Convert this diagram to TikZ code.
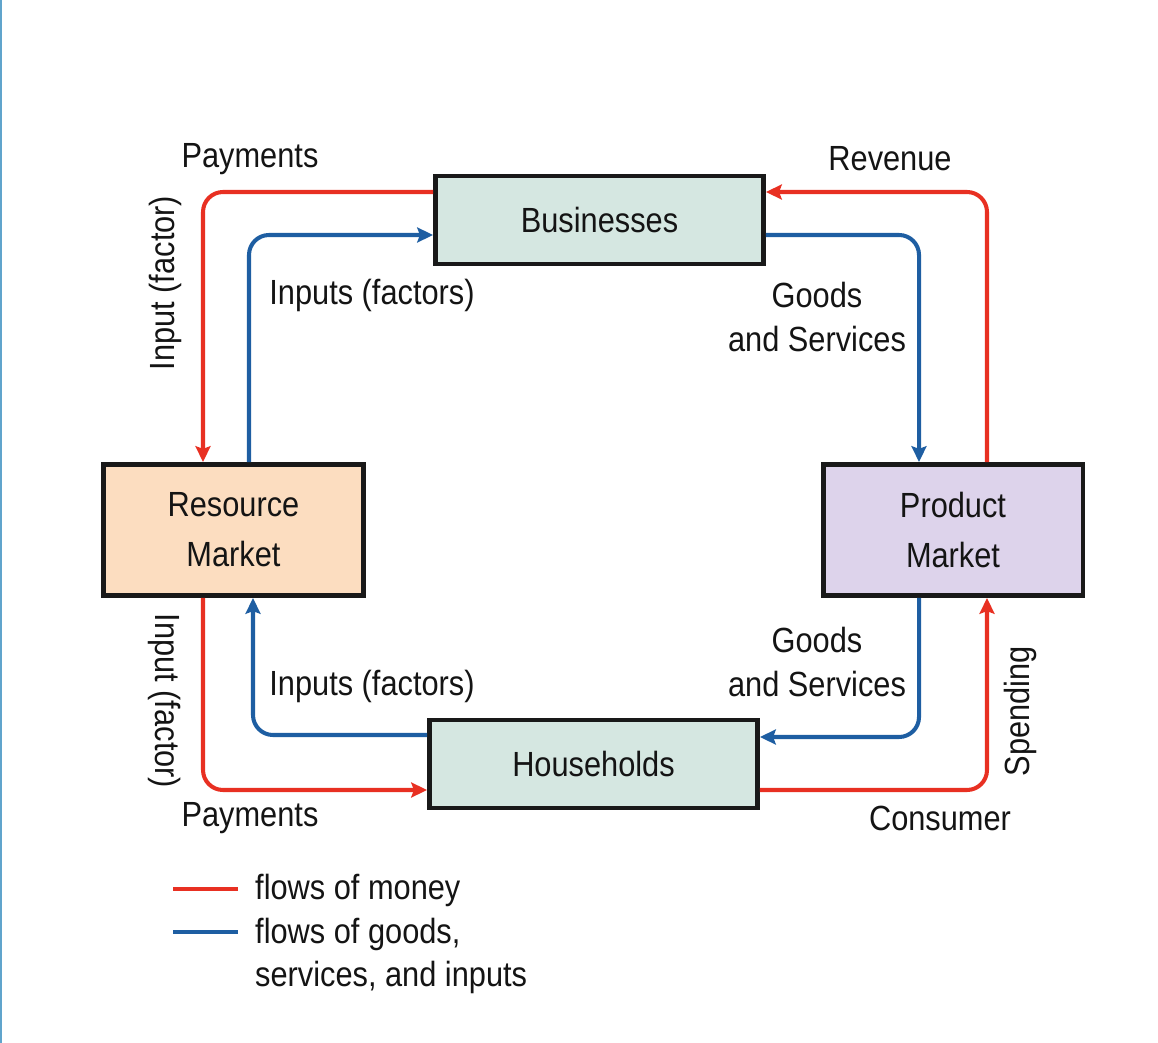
\documentclass[tikz,border=0pt]{standalone}
\usepackage{fontspec}
\setmainfont{Liberation Sans}[FakeStretch=0.88]
\usepackage{tikz}
\usetikzlibrary{arrows.meta, positioning, calc}
\definecolor{moneyred}{RGB}{232,48,34}
\definecolor{goodsblue}{RGB}{30,94,162}
\definecolor{mint}{RGB}{213,231,225}
\definecolor{peach}{RGB}{252,221,192}
\definecolor{lilac}{RGB}{221,211,235}
\definecolor{edgeblue}{RGB}{96,164,204}
\begin{document}
\begin{tikzpicture}[
  x=0.02cm, y=-0.02cm,
  every node/.style={font=\fontsize{19.9}{28.5}\selectfont, text=black!92},
  box/.style={rectangle, draw=black!90, line width=2.8pt, align=center,
              minimum width=6.56cm, minimum height=1.76cm},
  market/.style={box, minimum width=5.2cm, minimum height=2.62cm},
  money/.style={-{Stealth[length=9pt, width=8.5pt, inset=1.5pt]}, line width=2.3pt,
                color=moneyred, rounded corners=0.4cm},
  goods/.style={-{Stealth[length=9pt, width=8.5pt, inset=1.5pt]}, line width=2.3pt,
                color=goodsblue, rounded corners=0.4cm},
  lbl/.style={align=center, font=\fontsize{19.9}{25}\selectfont}
]
  \useasboundingbox (0,0) rectangle (1158,1043);
  \draw[edgeblue, line width=1.2pt] (0.6,0) -- (0.6,1043);

  % The four boxes
  \node[box, fill=mint] (biz) at (599.5,220) {Businesses};
  \node[box, fill=mint] (hh) at (593.5,764) {Households};
  \node[market, fill=peach] (res) at (233.5,530) {Resource\\Market};
  \node[market, fill=lilac] (prod) at (953,530) {Product\\Market};

  % Money flows
  \draw[money] ([yshift=0.56cm]biz.west) -| ([xshift=-0.61cm]res.north);
  \draw[money] ([xshift=-0.61cm]res.south) |- ([yshift=-0.52cm]hh.west);
  \draw[money] ([yshift=-0.52cm]hh.east) -| ([xshift=0.68cm]prod.south);
  \draw[money] ([xshift=0.68cm]prod.north) |- ([yshift=0.56cm]biz.east);

  % Goods, services and inputs
  \draw[goods] ([xshift=0.31cm]res.north) |- ([yshift=-0.3cm]biz.west);
  \draw[goods] ([yshift=-0.3cm]biz.east) -| ([xshift=-0.68cm]prod.north);
  \draw[goods] ([xshift=-0.68cm]prod.south) |- ([yshift=0.54cm]hh.east);
  \draw[goods] ([yshift=0.58cm]hh.west) -| ([xshift=0.39cm]res.south);

  % Labels
  \node[lbl] (paytop) at (250,159) {Payments};
  \node[lbl] (rev) at (890,159) {Revenue};
  \node[lbl] (inptop) at (372,295) {Inputs (factors)};
  \node[lbl] (gstop) at (817,317) {Goods\\and Services};
  \node[lbl, rotate=90] (inftop) at (165,283) {Input (factor)};
  \node[lbl, rotate=-90] (infbot) at (165,701) {Input (factor)};
  \node[lbl] (inpbot) at (372,686) {Inputs (factors)};
  \node[lbl] (gsbot) at (817,662) {Goods\\and Services};
  \node[lbl, rotate=90] (spend) at (1020,711) {Spending};
  \node[lbl] (paybot) at (250,818) {Payments};
  \node[lbl] (cons) at (940,818) {Consumer};

  % Legend
  \node[lbl, align=left, anchor=west]
    (key) at (249,934) {flows of money\\flows of goods,\\services, and inputs};
  \draw[moneyred, line width=2.6pt] (173,889) -- (238,889);
  \draw[goodsblue, line width=2.6pt] (173,932) -- (238,932);
\end{tikzpicture}
\end{document}
